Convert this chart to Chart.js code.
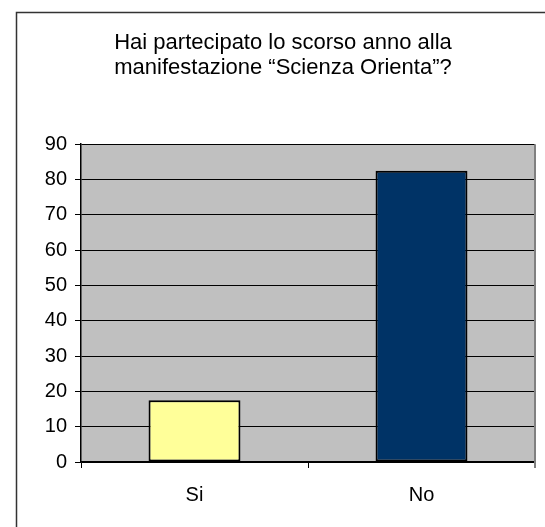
<!DOCTYPE html>
<html>
<head>
<meta charset="utf-8">
<script src="https://cdn.jsdelivr.net/npm/chart.js@4/dist/chart.umd.min.js"></script>
<style>
  html, body { margin: 0; padding: 0; background: #fff; }
  canvas { display: block; }
</style>
</head>
<body>
<canvas id="chart" width="545" height="527"></canvas>
<script>
/* Scienza Orienta bar chart */
const titleLines = ['Hai partecipato lo scorso anno alla', 'manifestazione \u201cScienza Orienta\u201d?'];
const categories = ['Si', 'No'];
const answers    = [17.5, 82.5];
const barColors  = ['#ffff99', '#003366'];
const yTicks     = [0, 10, 20, 30, 40, 50, 60, 70, 80, 90];

const FONT = "'Liberation Sans', Arial, sans-serif";

// white page, outer frame and grey plot area
const frame = {
  id: 'frame',
  beforeDraw(chart) {
    const { ctx, chartArea: a } = chart;
    ctx.save();
    ctx.fillStyle = '#fff';
    ctx.fillRect(0, 0, chart.width, chart.height);
    ctx.strokeStyle = '#333';
    ctx.lineWidth = 1.5;
    ctx.strokeRect(16.5, 12.5, chart.width + 10, chart.height + 10);
    ctx.fillStyle = '#c0c0c0';
    ctx.fillRect(a.left, a.top, a.right - a.left, a.bottom - a.top);
    ctx.restore();
  },
  afterDatasetsDraw(chart) {
    const { ctx, chartArea: a } = chart;
    ctx.save();
    ctx.strokeStyle = '#808080';
    ctx.lineWidth = 2;
    ctx.beginPath();
    ctx.moveTo(a.right, a.top);
    ctx.lineTo(a.right, a.bottom + 6);
    ctx.stroke();
    ctx.restore();
  }
};

new Chart(document.getElementById('chart'), {
  type: 'bar',
  data: {
    labels: categories,
    datasets: [{
      data: answers,
      backgroundColor: barColors,
      borderColor: '#000',
      borderWidth: 2,
      borderSkipped: false,
      barPercentage: 0.405,
      categoryPercentage: 1
    }]
  },
  options: {
    responsive: false,
    animation: false,
    layout: { padding: { left: 31, right: 10, top: 18, bottom: 0 } },
    plugins: {
      legend: { display: false },
      tooltip: { enabled: false },
      title: {
        display: true,
        text: titleLines,
        color: '#000',
        font: { family: FONT, size: 22, weight: 'normal', lineHeight: 1.14 },
        padding: { top: 12, bottom: 64 }
      }
    },
    scales: {
      x: {
        grid: { display: true, drawOnChartArea: false, color: '#000', tickLength: 6, offset: true },
        border: { display: true, color: '#000', width: 1.5 },
        ticks: { color: '#000', padding: 15, font: { family: FONT, size: 20 } },
        afterFit: s => { s.height = 65; }
      },
      y: {
        min: 0,
        max: 90,
        afterBuildTicks: s => { s.ticks = yTicks.map(v => ({ value: v })); },
        grid: { color: '#000', lineWidth: 1, tickLength: 6 },
        border: { display: true, color: '#000', width: 1.5 },
        ticks: { color: '#000', padding: 8, font: { family: FONT, size: 20 } },
        afterFit: s => { s.width = 50; }
      }
    }
  },
  plugins: [frame]
});
</script>
</body>
</html>
